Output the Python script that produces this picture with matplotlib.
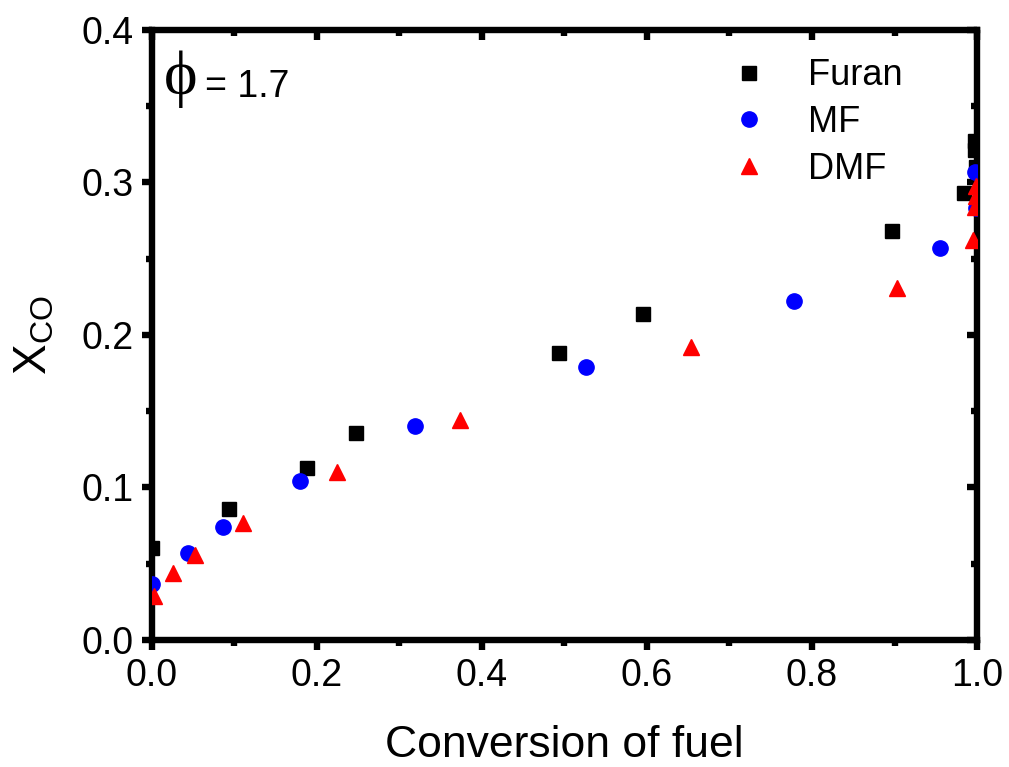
import matplotlib
matplotlib.use("Agg")
import matplotlib.pyplot as plt
from matplotlib.ticker import MultipleLocator, FormatStrFormatter

furan_x = [0.0, 0.093, 0.188, 0.247, 0.493, 0.595, 0.897, 0.984, 0.997, 0.998, 0.999]
furan_y = [0.060, 0.086, 0.113, 0.136, 0.188, 0.214, 0.268, 0.293, 0.321, 0.327, 0.310]

mf_x = [0.0, 0.044, 0.086, 0.179, 0.319, 0.526, 0.778, 0.955, 0.998, 0.999]
mf_y = [0.037, 0.057, 0.074, 0.104, 0.140, 0.179, 0.222, 0.257, 0.307, 0.283]

dmf_x = [0.003, 0.026, 0.052, 0.110, 0.224, 0.373, 0.653, 0.903, 0.995, 0.998, 0.999, 0.999]
dmf_y = [0.029, 0.044, 0.056, 0.077, 0.110, 0.144, 0.192, 0.231, 0.262, 0.284, 0.291, 0.298]

labels = ["Furan", "MF", "DMF"]

plt.rcParams['font.family'] = ['Liberation Sans', 'DejaVu Sans']
plt.rcParams['mathtext.fontset'] = 'custom'
plt.rcParams['mathtext.rm'] = 'Liberation Sans'

fig = plt.figure(figsize=(10.09, 7.67), dpi=100)
ax = fig.add_axes([0.1506, 0.1656, 0.8177, 0.7953])

ax.plot(furan_x, furan_y, 's', color='black', markersize=9.4, label=labels[0], zorder=3)
ax.plot(mf_x, mf_y, 'o', color='blue', markeredgecolor='blue', markersize=11, label=labels[1], zorder=3)
ax.plot(dmf_x, dmf_y, '^', color='red', markeredgecolor='red', markersize=12, label=labels[2], zorder=3)

ax.set_xlim(0, 1.0)
ax.set_ylim(0, 0.4)
ax.xaxis.set_major_locator(MultipleLocator(0.2))
ax.xaxis.set_minor_locator(MultipleLocator(0.1))
ax.yaxis.set_major_locator(MultipleLocator(0.1))
ax.yaxis.set_minor_locator(MultipleLocator(0.05))
ax.xaxis.set_major_formatter(FormatStrFormatter('%.1f'))
ax.yaxis.set_major_formatter(FormatStrFormatter('%.1f'))

lw = 4.6
for s in ax.spines.values():
    s.set_linewidth(lw)

ax.tick_params(which='major', direction='out', length=7, width=lw, labelsize=27, pad=6)
ax.tick_params(which='minor', direction='out', length=4, width=lw)

# inward ticks on top and right
axt = ax.secondary_xaxis('top')
axt.xaxis.set_major_locator(MultipleLocator(0.2))
axt.xaxis.set_minor_locator(MultipleLocator(0.1))
axt.tick_params(which='major', direction='in', length=7, width=lw, labeltop=False)
axt.tick_params(which='minor', direction='in', length=4, width=lw)
axt.spines['top'].set_visible(False)
axr = ax.secondary_yaxis('right')
axr.yaxis.set_major_locator(MultipleLocator(0.1))
axr.yaxis.set_minor_locator(MultipleLocator(0.05))
axr.tick_params(which='major', direction='in', length=7, width=lw, labelright=False)
axr.tick_params(which='minor', direction='in', length=4, width=lw)
axr.spines['right'].set_visible(False)

ax.set_xlabel("Conversion of fuel", fontsize=32, labelpad=22)
ax.set_ylabel("X$_{\\mathregular{CO}}$", fontsize=33, labelpad=18)

ax.text(0.015, 0.968, "\u03d5", transform=ax.transAxes, fontsize=46,
        family=['Liberation Serif', 'DejaVu Serif'], va='top', ha='left')
ax.text(0.064, 0.936, "= 1.7", transform=ax.transAxes, fontsize=27, va='top', ha='left')

leg = ax.legend(loc='upper right', frameon=False, fontsize=26, handletextpad=0.62,
                markerscale=1.0, borderaxespad=0.0, labelspacing=0.32,
                bbox_to_anchor=(0.927, 0.977))

fig.savefig("out.png", dpi=100)
